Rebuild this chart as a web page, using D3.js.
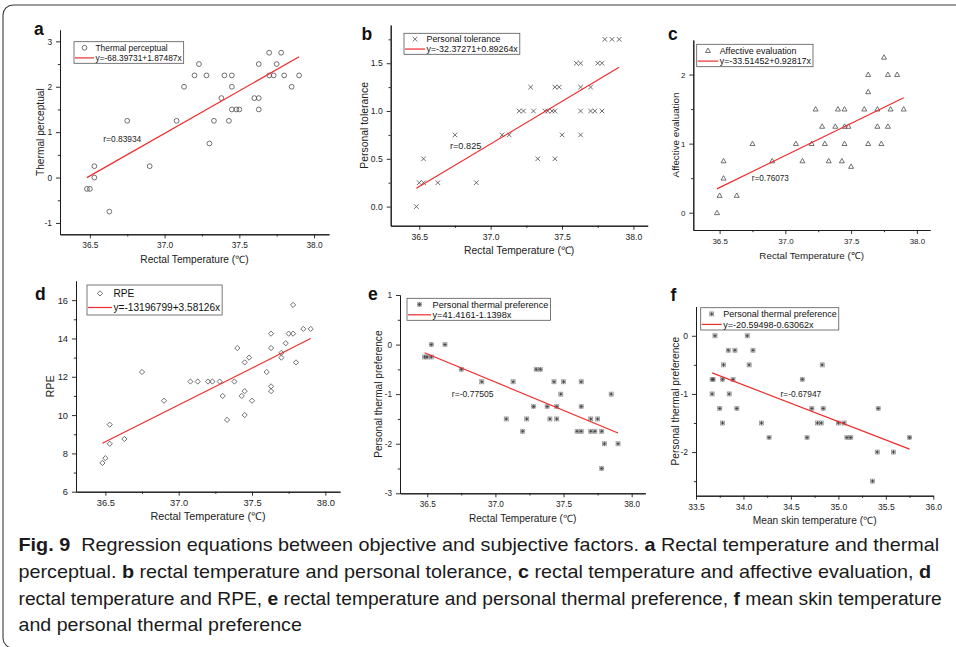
<!DOCTYPE html>
<html><head><meta charset="utf-8">
<script src="https://cdn.jsdelivr.net/npm/d3@7"></script>
<style>
html,body{margin:0;padding:0;background:#fff;}
svg{display:block;}
text{font-family:"Liberation Sans",Arial,Helvetica,sans-serif;}
.cap{font-family:"Liberation Sans Narrow","Liberation Sans",Arial,sans-serif;white-space:pre;}
</style></head><body>
<svg id="fig" width="956" height="647"></svg>
<script>
// ---------- data ----------
// a: rectal temperature vs thermal perceptual
const rectalA = [36.48,36.50,36.53,36.53,36.63,36.75,36.90,37.08,37.13,37.20,37.23,37.28,37.30,37.33,37.38,37.40,37.43,37.45,37.45,37.45,37.48,37.50,37.60,37.63,37.63,37.63,37.70,37.70,37.73,37.75,37.78,37.80,37.85,37.90];
const thermalPerceptual = [-0.25,-0.25,0.25,0,-0.75,1.25,0.25,1.25,2.0,2.25,2.5,2.25,0.75,1.25,1.75,2.25,1.25,2.25,2.0,1.5,1.5,1.5,1.75,1.75,2.5,1.5,2.75,2.25,2.25,2.5,2.75,2.25,2.0,2.25];
// b: rectal temperature vs personal tolerance
const rectalB = [36.48,36.50,36.53,36.53,36.63,36.75,36.90,37.08,37.13,37.20,37.23,37.28,37.30,37.33,37.38,37.40,37.43,37.45,37.45,37.45,37.48,37.50,37.60,37.63,37.63,37.63,37.63,37.70,37.70,37.73,37.75,37.78,37.78,37.80,37.85,37.90];
const personalTolerance = [0,0.25,0.25,0.5,0.25,0.75,0.25,0.75,0.75,1.0,1.0,1.25,1.0,0.5,1.0,1.0,1.0,1.0,0.5,1.25,1.25,0.75,1.5,1.5,1.25,1.0,0.75,1.25,1.0,1.0,1.5,1.5,1.0,1.75,1.75,1.75];
// c: rectal temperature vs affective evaluation
const rectalC = [36.48,36.50,36.53,36.53,36.63,36.75,36.90,37.08,37.13,37.20,37.23,37.28,37.30,37.33,37.38,37.40,37.43,37.45,37.45,37.45,37.48,37.50,37.60,37.63,37.63,37.63,37.70,37.70,37.73,37.75,37.78,37.78,37.80,37.85,37.90];
const affectiveEvaluation = [0,0.25,0.5,0.75,0.25,1.0,0.75,1.0,0.75,1.0,1.5,1.25,1.0,0.75,1.25,1.5,0.75,1.5,1.25,1.0,1.25,0.67,1.5,2.0,1.75,1.0,1.5,1.25,1.0,2.25,2.0,1.25,1.5,2.0,1.5];
// d: rectal temperature vs RPE
const rectalD = [36.48,36.50,36.53,36.53,36.63,36.75,36.90,37.08,37.13,37.20,37.23,37.28,37.30,37.33,37.38,37.40,37.43,37.45,37.45,37.45,37.48,37.50,37.60,37.63,37.63,37.63,37.63,37.70,37.70,37.73,37.75,37.78,37.78,37.80,37.85,37.90];
const rpe = [7.5,7.75,9.5,8.5,8.75,12.25,10.75,11.75,11.75,11.75,11.75,11.75,11.0,9.75,11.75,13.5,11.0,12.75,11.25,10.0,13.0,10.75,12.25,14.25,13.5,11.5,11.25,13.25,13.0,13.75,14.25,15.75,14.25,12.75,14.5,14.5];
// e: rectal temperature vs personal thermal preference
const rectalE = [36.48,36.50,36.53,36.53,36.63,36.75,36.90,37.08,37.13,37.20,37.23,37.28,37.30,37.33,37.38,37.40,37.43,37.45,37.45,37.48,37.50,37.60,37.63,37.63,37.63,37.70,37.70,37.73,37.75,37.78,37.78,37.80,37.85,37.90];
const preferenceE = [-0.25,-0.25,-0.25,0,0,-0.5,-0.75,-1.5,-0.75,-1.75,-1.5,-1.25,-0.5,-0.5,-1.25,-1.5,-0.75,-1.25,-1.5,-1.0,-0.75,-1.75,-1.75,-0.75,-1.25,-1.5,-1.75,-1.75,-1.5,-1.75,-2.5,-2.0,-1.0,-2.0];
// f: mean skin temperature vs personal thermal preference
const skinTemp = [33.67,33.68,33.67,33.70,33.75,33.78,33.78,33.79,33.84,33.85,33.89,33.91,33.93,34.04,34.06,34.10,34.19,34.27,34.62,34.67,34.72,34.78,34.82,34.83,34.84,35.00,35.06,35.09,35.13,35.36,35.41,35.42,35.58,35.75];
const preferenceF = [-0.75,-0.75,-1.0,0,-1.25,-1.5,-0.75,-0.5,-0.25,-1.0,-0.75,-0.25,-1.25,0,-0.5,-0.25,-1.5,-1.75,-0.75,-1.75,-1.25,-1.5,-1.5,-0.5,-1.25,-1.5,-1.5,-1.75,-1.75,-2.5,-2.0,-1.25,-2.0,-1.75];

// fitted lines [intercept, slope] and their printed labels
const fitA = [-68.39731, 1.87487];
const fitB = [-32.37271, 0.89264];
const fitC = [-33.51452, 0.92817];
const fitD = [-131.96799, 3.85126];
const fitE = [41.4161, -1.1398];
const fitF = [20.59498, -0.63062];
const equationLabels = ['y=-68.39731+1.87487x','y=-32.37271+0.89264x','y=-33.51452+0.92817x','y=-13196799+3.58126x','y=41.4161-1.1398x','y=-20.59498-0.63062x'];
const rLabels = ['r=0.83934','r=0.825','r=0.76073',null,'r=-0.77505','r=-0.67947'];
const seriesNames = ['Thermal perceptual','Personal tolerance','Affective evaluation','RPE','Personal thermal preference','Personal thermal preference'];
const yTitles = ['Thermal perceptual','Personal tolerance','Affective evaluation','RPE','Personal thermal preference','Personal thermal preference'];
const xTitles = ['Rectal Temperature (\u2103)','Rectal Temperature (\u2103)','Rectal Temperature (\u2103)','Rectal Temperature (\u2103)','Rectal Temperature (\u2103)','Mean skin temperature (\u2103)'];
const panelLetters = ['a','b','c','d','e','f'];

const rectalTicks = [36.5,37.0,37.5,38.0];
const rectalMinor = [36.75,37.25,37.75];
const skinTicks = [33.5,34.0,34.5,35.0,35.5,36.0];
const skinMinor = [33.75,34.25,34.75,35.25,35.75];

const captionLines = [
  [['Fig. 9',1],['  Regression equations between objective and subjective factors. ',0],['a',1],[' Rectal temperature and thermal',0]],
  [['perceptual. ',0],['b',1],[' rectal temperature and personal tolerance, ',0],['c',1],[' rectal temperature and affective evaluation, ',0],['d',1]],
  [['rectal temperature and RPE, ',0],['e',1],[' rectal temperature and personal thermal preference, ',0],['f',1],[' mean skin temperature',0]],
  [['and personal thermal preference',0]]
];

// ---------- layout ----------
const AXIS = '#1b1b1b', MARK = '#4d4d4d', FIT = '#ee2b2b';
const svg = d3.select('#fig');

// rounded frame
svg.append('rect').attr('x',3).attr('y',5).attr('width',1010).attr('height',643)
  .attr('rx',10).attr('fill','none').attr('stroke','#3a3a3a').attr('stroke-width',1.1);

const panels = [
  {x:rectalA, y:thermalPerceptual, fit:fitA, marker:'circle',
   box:{l:60,r:329,t:30,b:234.3}, xd:[36.3,38.1], yd:[-1.25,3.25], xt:rectalTicks, xm:rectalMinor,
   yt:[-1,0,1,2,3], ym:[-0.5,0.5,1.5,2.5], yf:d=>String(d),
   fs:{tick:8.3,title:10.2,leg:8.4,r:8.4}, letter:[34,34.5], yTitleOff:20,
   leg:{L:74,T:41.7,H:21.6,line:20}, rPos:[36.59,0.85]},
  {x:rectalB, y:personalTolerance, fit:fitB, marker:'cross',
   box:{l:390.7,r:647.7,t:25,b:225.7}, xd:[36.3,38.1], yd:[-0.2,1.9], xt:rectalTicks, xm:rectalMinor,
   yt:[0,0.5,1,1.5], ym:[0.25,0.75,1.25,1.75], yf:d=>d.toFixed(1),
   fs:{tick:8.6,title:10.4,leg:8.9,r:9.2}, letter:[361.5,39.5], yTitleOff:26.5,
   leg:{L:404,T:33.3,H:21,line:21}, rPos:[36.715,0.64]},
  {x:rectalC, y:affectiveEvaluation, fit:fitC, marker:'triangle',
   box:{l:693.3,r:930,t:40,b:230}, xd:[36.3,38.1], yd:[-0.25,2.5], xt:rectalTicks, xm:rectalMinor,
   yt:[0,1,2], ym:[0.5,1.5], yf:d=>String(d),
   fs:{tick:7.9,title:9.8,leg:8.9,r:8.2}, letter:[668,39.5], yTitleOff:17.5,
   leg:{L:696.7,T:44.3,H:22.4,line:21.5}, rPos:[36.745,0.5]},
  {x:rectalD, y:rpe, fit:fitD, marker:'diamond',
   box:{l:76,r:340,t:281,b:491.7}, xd:[36.3,38.1], yd:[6,17], xt:rectalTicks, xm:rectalMinor,
   yt:[6,8,10,12,14,16], ym:[7,9,11,13,15], yf:d=>String(d),
   fs:{tick:9.3,title:10.8,leg:10.1,r:9}, letter:[35,299.5], yTitleOff:26,
   leg:{L:87,T:285,H:30,line:25}, rPos:null},
  {x:rectalE, y:preferenceE, fit:fitE, marker:'star',
   box:{l:400,r:645.3,t:295,b:493.3}, xd:[36.3,38.1], yd:[-3,1], xt:rectalTicks, xm:rectalMinor,
   yt:[-3,-2,-1,0,1], ym:[-2.5,-1.5,-0.5,0.5], yf:d=>String(d),
   fs:{tick:8.2,title:10.1,leg:9.2,r:8.6}, letter:[368,299.5], yTitleOff:21.5,
   leg:{L:407,T:298.3,H:22,line:24}, rPos:[36.68,-1.0]},
  {x:skinTemp, y:preferenceF, fit:fitF, marker:'star',
   box:{l:696,r:933.3,t:306.7,b:495.7}, xd:[33.5,36.0], yd:[-2.75,0.5], xt:skinTicks, xm:skinMinor,
   yt:[-2,-1,0], ym:[-2.5,-1.5,-0.5], yf:d=>String(d),
   fs:{tick:8.5,title:10.2,leg:9.0,r:8.4}, letter:[670.5,300.5], yTitleOff:21,
   leg:{L:700.7,T:307.7,H:22.3,line:21}, rPos:[34.39,-1.0]}
];

// marker drawing
function drawMarker(g, type, cx, cy) {
  const m = g.append('g').attr('transform', `translate(${cx},${cy})`)
    .attr('fill','none').attr('stroke',MARK).attr('stroke-width',0.8);
  if (type === 'circle') m.append('circle').attr('r',2.4);
  else if (type === 'cross') m.append('path').attr('d','M-2.3,-2.3L2.3,2.3M-2.3,2.3L2.3,-2.3');
  else if (type === 'triangle') m.append('path').attr('d','M0,-2.5L2.5,1.9L-2.5,1.9Z');
  else if (type === 'diamond') m.append('path').attr('d','M0,-2.6L2.6,0L0,2.6L-2.6,0Z');
  else if (type === 'star') {
    m.append('rect').attr('x',-2.1).attr('y',-2.1).attr('width',4.2).attr('height',4.2)
      .attr('stroke','#9a9a9a').attr('stroke-width',0.6);
    m.append('path').attr('d','M-2,0H2M0,-2V2M-1.5,-1.5L1.5,1.5M-1.5,1.5L1.5,-1.5')
      .attr('stroke','#333').attr('stroke-width',0.7);
  }
}

function styleAxis(g, fs) {
  g.attr('font-family',null).attr('font-size',null);
  g.selectAll('.domain').attr('stroke',AXIS).attr('stroke-width',1);
  g.selectAll('.tick line').attr('stroke',AXIS).attr('stroke-width',0.9);
  g.selectAll('.tick text').attr('fill','#222').attr('font-size',fs);
}

panels.forEach((p, i) => {
  const g = svg.append('g');
  const xs = d3.scaleLinear().domain(p.xd).range([p.box.l, p.box.r]);
  const ys = d3.scaleLinear().domain(p.yd).range([p.box.b, p.box.t]);

  // minor ticks first, then major axes on top
  const xMinorG = g.append('g').attr('transform',`translate(0,${p.box.b})`)
    .call(d3.axisBottom(xs).tickValues(p.xm).tickSize(2.2).tickSizeOuter(0).tickFormat(''));
  styleAxis(xMinorG, p.fs.tick);
  const yMinorG = g.append('g').attr('transform',`translate(${p.box.l},0)`)
    .call(d3.axisLeft(ys).tickValues(p.ym).tickSize(2.2).tickSizeOuter(0).tickFormat(''));
  styleAxis(yMinorG, p.fs.tick);

  const xAxisG = g.append('g').attr('transform',`translate(0,${p.box.b})`)
    .call(d3.axisBottom(xs).tickValues(p.xt).tickSize(4).tickPadding(4).tickSizeOuter(0).tickFormat(d=>d.toFixed(1)));
  styleAxis(xAxisG, p.fs.tick);
  const yAxisG = g.append('g').attr('transform',`translate(${p.box.l},0)`)
    .call(d3.axisLeft(ys).tickValues(p.yt).tickSize(4).tickPadding(4).tickSizeOuter(0).tickFormat(p.yf));
  styleAxis(yAxisG, p.fs.tick);

  // axis titles
  g.append('text').attr('x',(p.box.l+p.box.r)/2).attr('y',p.box.b+28.5)
    .attr('text-anchor','middle').attr('font-size',p.fs.title).attr('fill','#222').text(xTitles[i]);
  g.append('text').attr('transform',`translate(${p.box.l-p.yTitleOff},${(p.box.t+p.box.b)/2}) rotate(-90)`)
    .attr('text-anchor','middle').attr('dy','0.35em').attr('font-size',p.fs.title).attr('fill','#222').text(yTitles[i]);

  // panel letter
  svg.append('text').attr('x',p.letter[0]).attr('y',p.letter[1]).attr('font-size',17.5)
    .attr('font-weight','bold').attr('fill','#111').text(panelLetters[i]);

  // points
  const pts = g.append('g');
  p.x.forEach((xv, k) => drawMarker(pts, p.marker, xs(xv), ys(p.y[k])));

  // fitted line over the data range
  const xr = d3.extent(p.x);
  const line = d3.line().x(d=>xs(d)).y(d=>ys(p.fit[0] + p.fit[1]*d));
  g.append('path').datum(xr).attr('d',line).attr('fill','none').attr('stroke',FIT).attr('stroke-width',1.2);

  // correlation label
  if (rLabels[i] && p.rPos) {
    g.append('text').attr('x',xs(p.rPos[0])).attr('y',ys(p.rPos[1])).attr('dy','0.35em')
      .attr('font-size',p.fs.r).attr('fill','#222').text(rLabels[i]);
  }

  // legend
  const L = p.leg, lg = g.append('g');
  const r1 = L.T + 0.28*L.H, r2 = L.T + 0.75*L.H, tx = L.L + L.line + 1.5;
  const box = lg.append('rect').attr('x',L.L).attr('y',L.T).attr('height',L.H)
    .attr('fill','#fff').attr('stroke','#555').attr('stroke-width',0.8);
  drawMarker(lg, p.marker, L.L + L.line/2 + 0.5, r1);
  lg.append('line').attr('x1',L.L+1).attr('x2',L.L+L.line).attr('y1',r2).attr('y2',r2)
    .attr('stroke',FIT).attr('stroke-width',1.2);
  const t1 = lg.append('text').attr('x',tx).attr('y',r1).attr('dy','0.35em')
    .attr('font-size',p.fs.leg).attr('fill','#111').text(seriesNames[i]);
  const t2 = lg.append('text').attr('x',tx).attr('y',r2).attr('dy','0.35em')
    .attr('font-size',p.fs.leg).attr('fill','#111').text(equationLabels[i]);
  const w = Math.max(t1.node().getComputedTextLength(), t2.node().getComputedTextLength());
  box.attr('width', tx - L.L + w + 2);
});

// caption, each line fitted to its measured extent
const capStart = 18.5;
const capEnds = [940, 932, 942, 302];
const capBase = [551, 578, 604.5, 631];
captionLines.forEach((segs, i) => {
  const t = svg.append('text').attr('class','cap').attr('x',0).attr('y',0)
    .attr('font-size',19).attr('fill','#1a1a1a');
  segs.forEach(s => t.append('tspan').attr('font-weight', s[1] ? 'bold' : 'normal').text(s[0]));
  const w = t.node().getComputedTextLength();
  const sx = (capEnds[i] - capStart) / w;
  t.attr('transform', `translate(${capStart},${capBase[i]}) scale(${sx},1)`);
});
</script>
</body></html>
